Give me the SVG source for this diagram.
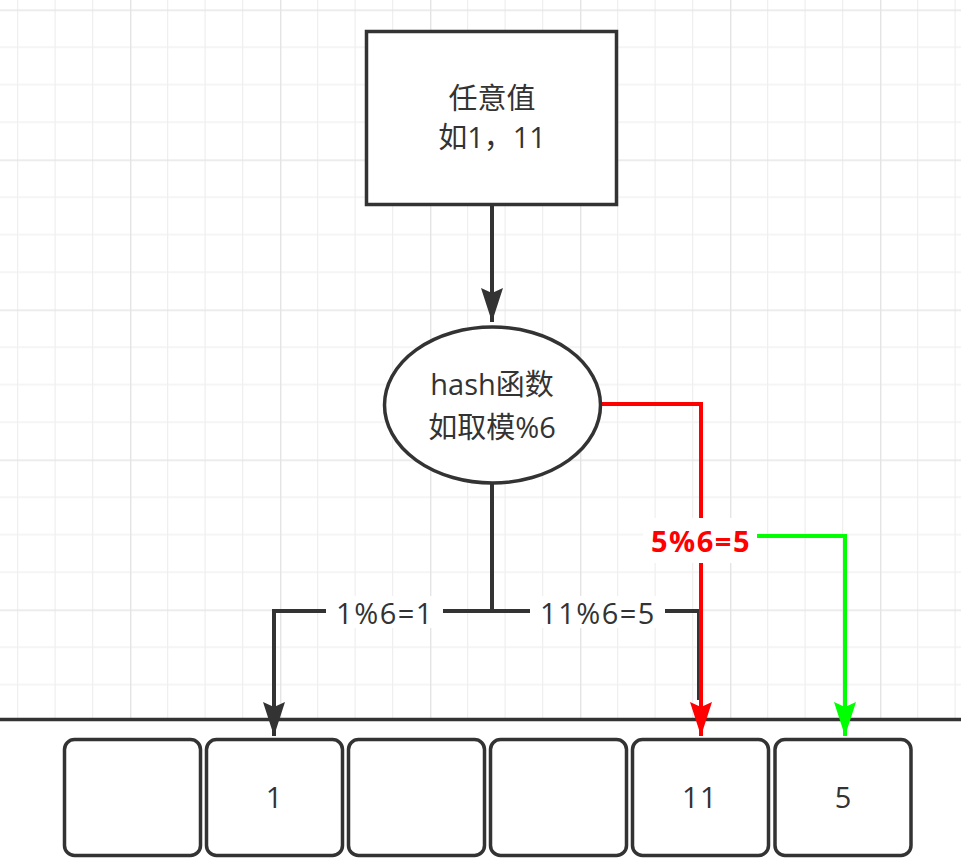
<svg xmlns="http://www.w3.org/2000/svg" width="961" height="859" viewBox="0 0 961 859">
<style>
.t{font-family:"Open Sans","Noto Sans CJK SC",sans-serif;font-size:29px;fill:#333;text-anchor:middle}
.l{letter-spacing:1.5px}
.b{fill:#fff;stroke:#333;stroke-width:3.5}
.e{fill:none;stroke-width:4;stroke-linejoin:miter}
.lb{fill:#fff}
</style>
<defs>
<pattern id="grid" patternUnits="userSpaceOnUse" x="130" y="9.5" width="150" height="150">
<rect width="150" height="150" fill="#fff"/>
<rect x="37" y="0" width="1.2" height="150" fill="#efefef"/>
<rect x="74.5" y="0" width="1.2" height="150" fill="#efefef"/>
<rect x="112" y="0" width="1.2" height="150" fill="#efefef"/>
<rect x="0" y="37" width="150" height="1.2" fill="#efefef"/>
<rect x="0" y="74.5" width="150" height="1.2" fill="#efefef"/>
<rect x="0" y="112" width="150" height="1.2" fill="#efefef"/>
<rect x="0" y="0" width="1.4" height="150" fill="#e4e4e4"/>
<rect x="0" y="0" width="150" height="1.4" fill="#e4e4e4"/>
</pattern>
<marker id="ak" markerUnits="userSpaceOnUse" viewBox="0 -12 34 24" refX="34" refY="0" markerWidth="34" markerHeight="24" orient="auto">
<path d="M0,-11 L34,0 L0,11 L5,0 Z" fill="#333"/>
</marker>
<marker id="ar" markerUnits="userSpaceOnUse" viewBox="0 -12 34 24" refX="34" refY="0" markerWidth="34" markerHeight="24" orient="auto">
<path d="M0,-11 L34,0 L0,11 L5,0 Z" fill="#ff0000"/>
</marker>
<marker id="ag" markerUnits="userSpaceOnUse" viewBox="0 -12 34 24" refX="34" refY="0" markerWidth="34" markerHeight="24" orient="auto">
<path d="M0,-11 L34,0 L0,11 L5,0 Z" fill="#00ff00"/>
</marker>
</defs>
<rect width="961" height="859" fill="url(#grid)"/>
<rect x="0" y="719" width="961" height="140" fill="#fff"/>
<line x1="0" y1="719.5" x2="961" y2="719.5" stroke="#333" stroke-width="3.5"/>

<g id="connectors">
<path class="e" stroke="#333" d="M492,205 L492,322" marker-end="url(#ak)"/>
<path class="e" stroke="#333" d="M492,484 L492,611 L274,611 L274,736" marker-end="url(#ak)"/>
<path class="e" stroke="#333" d="M492,611 L699,611 L699,700"/>
<path class="e" stroke="#ff0000" d="M601,404 L701,404 L701,736" marker-end="url(#ar)"/>
<path class="e" stroke="#00ff00" d="M756,536 L845,536 L845,736" marker-end="url(#ag)"/>
<rect class="lb" x="326" y="596" width="117" height="32"/>
<text class="t l" x="385" y="624">1%6=1</text>
<rect class="lb" x="530" y="596" width="135" height="32"/>
<text class="t l" x="598" y="624">11%6=5</text>
<rect class="lb" x="643" y="518" width="114" height="45"/>
<text class="t l" x="701" y="552" style="fill:#ff0000;font-weight:bold">5%6=5</text>
</g>

<g id="input">
<rect class="b" x="366.5" y="31.5" width="250" height="173"/>
<text class="t" x="492" y="109">任意值</text>
<text class="t" x="492" y="148">如1，11</text>
</g>
<g id="hash">
<ellipse class="b" cx="492.5" cy="405" rx="108" ry="78"/>
<text class="t" x="492" y="395">hash函数</text>
<text class="t" x="492" y="438">如取模%6</text>
</g>
<g id="slot0"><rect class="b" x="64.5" y="739.5" width="136" height="116" rx="10"/></g>
<g id="slot1"><rect class="b" x="206.5" y="739.5" width="136" height="116" rx="10"/><text class="t" x="274" y="808">1</text></g>
<g id="slot2"><rect class="b" x="348.5" y="739.5" width="136" height="116" rx="10"/></g>
<g id="slot3"><rect class="b" x="490.5" y="739.5" width="136" height="116" rx="10"/></g>
<g id="slot4"><rect class="b" x="632.5" y="739.5" width="136" height="116" rx="10"/><text class="t l" x="700" y="808">11</text></g>
<g id="slot5"><rect class="b" x="775" y="739.5" width="136" height="116" rx="10"/><text class="t" x="843" y="808">5</text></g>
</svg>
